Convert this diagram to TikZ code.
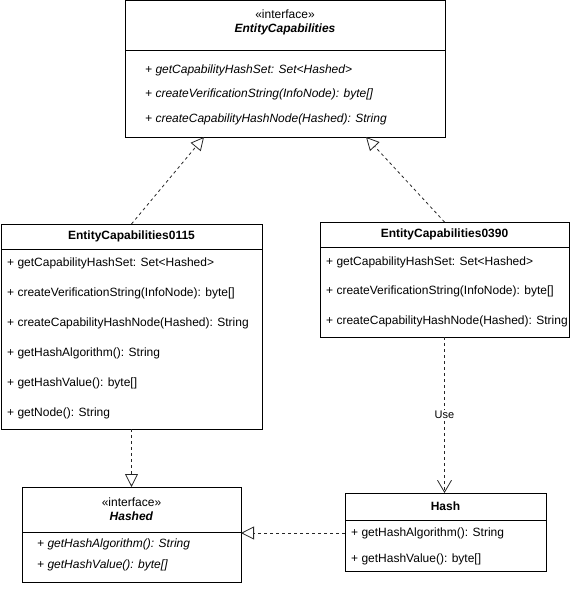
\documentclass[tikz,border=0pt]{standalone}
\usepackage{fontspec}
\setmainfont{Liberation Sans}
\usepackage{tikz}
\usetikzlibrary{arrows.meta,positioning}

\begin{document}
\begin{tikzpicture}[x=1pt, y=-1pt, node distance=0pt, >=Latex]
\tikzstyle{hdr}=[draw, line width=1pt, inner sep=0pt, outer sep=0pt, align=center, font=\fontsize{12}{14}\selectfont]
\tikzstyle{cbody}=[draw, line width=1pt, inner sep=0pt, outer sep=0pt]
\tikzstyle{meth}=[anchor=west, inner sep=0pt, font=\fontsize{12}{14}\selectfont]
\tikzstyle{imeth}=[anchor=west, inner sep=0pt, font=\fontsize{12}{14}\selectfont\itshape]
\tikzstyle{realize}=[draw=black!85, line width=0.8pt, dash pattern=on 3pt off 3pt, -{Triangle[open, length=13pt, width=13pt, line width=0.8pt]}]
\tikzstyle{usedep}=[draw=black!85, line width=0.8pt, dash pattern=on 3pt off 3pt, -{Straight Barb[length=12pt, width=14pt, line width=0.8pt]}]
\useasboundingbox (0,0) rectangle (571,591);

% interface EntityCapabilities
\node[hdr, minimum width=320pt, minimum height=50pt] (ech) at (285,26) {};
\node[cbody, minimum width=320pt, minimum height=86pt, below=of ech] (ecb) {};
\node[align=center, inner sep=0pt, font=\fontsize{12}{14}\selectfont] (ect) at (285,22) {«interface»\\\textbf{\textit{EntityCapabilities}}};
\foreach \m [count=\i] in {getCapabilityHashSet: Set<Hashed>, createVerificationString(InfoNode): byte[], createCapabilityHashNode(Hashed): String}
  \node[imeth] (ec-m\i) at (145,{45.5+24.5*\i}) {+ \m};

% EntityCapabilities0115
\node[hdr, minimum width=261pt, minimum height=25pt] (c0115h) at (131.5,236.5) {\textbf{EntityCapabilities0115}};
\node[cbody, minimum width=261pt, minimum height=180pt, below=of c0115h] (c0115b) {};
\foreach \m [count=\i] in {getCapabilityHashSet: Set<Hashed>, createVerificationString(InfoNode): byte[], createCapabilityHashNode(Hashed): String, getHashAlgorithm(): String, getHashValue(): byte[], getNode(): String}
  \node[meth] (c0115-m\i) at (7,{233+30*\i}) {+ \m};

% EntityCapabilities0390
\node[hdr, minimum width=249pt, minimum height=25pt] (c0390h) at (444.5,234.5) {\textbf{EntityCapabilities0390}};
\node[cbody, minimum width=249pt, minimum height=90pt, below=of c0390h] (c0390b) {};
\foreach \m [count=\i] in {getCapabilityHashSet: Set<Hashed>, createVerificationString(InfoNode): byte[], createCapabilityHashNode(Hashed): String}
  \node[meth] (c0390-m\i) at (326,{232.5+29.5*\i}) {+ \m};

% interface Hashed
\node[hdr, minimum width=219pt, minimum height=45pt] (hashedh) at (131.5,509.5) {«interface»\\\textbf{\textit{Hashed}}};
\node[cbody, minimum width=219pt, minimum height=50pt, below=of hashedh] (hashedb) {};
\foreach \m [count=\i] in {getHashAlgorithm(): String, getHashValue(): byte[]}
  \node[imeth] (hashed-m\i) at (37,{523+21*\i}) {+ \m};

% Hash
\node[hdr, minimum width=201pt, minimum height=27pt] (hashh) at (445.5,506.5) {\textbf{Hash}};
\node[cbody, minimum width=201pt, minimum height=51pt, below=of hashh] (hashb) {};
\foreach \m [count=\i] in {getHashAlgorithm(): String, getHashValue(): byte[]}
  \node[meth] (hash-m\i) at (351,{507+26*\i}) {+ \m};

% relations
\draw[realize] (c0115h.north) -- ([xshift=-81pt]ecb.south);
\draw[realize] (c0390h.north) -- ([xshift=81pt]ecb.south);
\draw[realize] (c0115b.south) -- (hashedh.north);
\draw[realize] (hash-m1.west -| hashb.west) -- (hash-m1.west -| hashedb.east);
\draw[usedep] (c0390b.south) -- node[fill=white, inner sep=1pt, font=\fontsize{11}{13}\selectfont] {Use} (c0390b.south |- hashh.north);
\end{tikzpicture}
\end{document}
